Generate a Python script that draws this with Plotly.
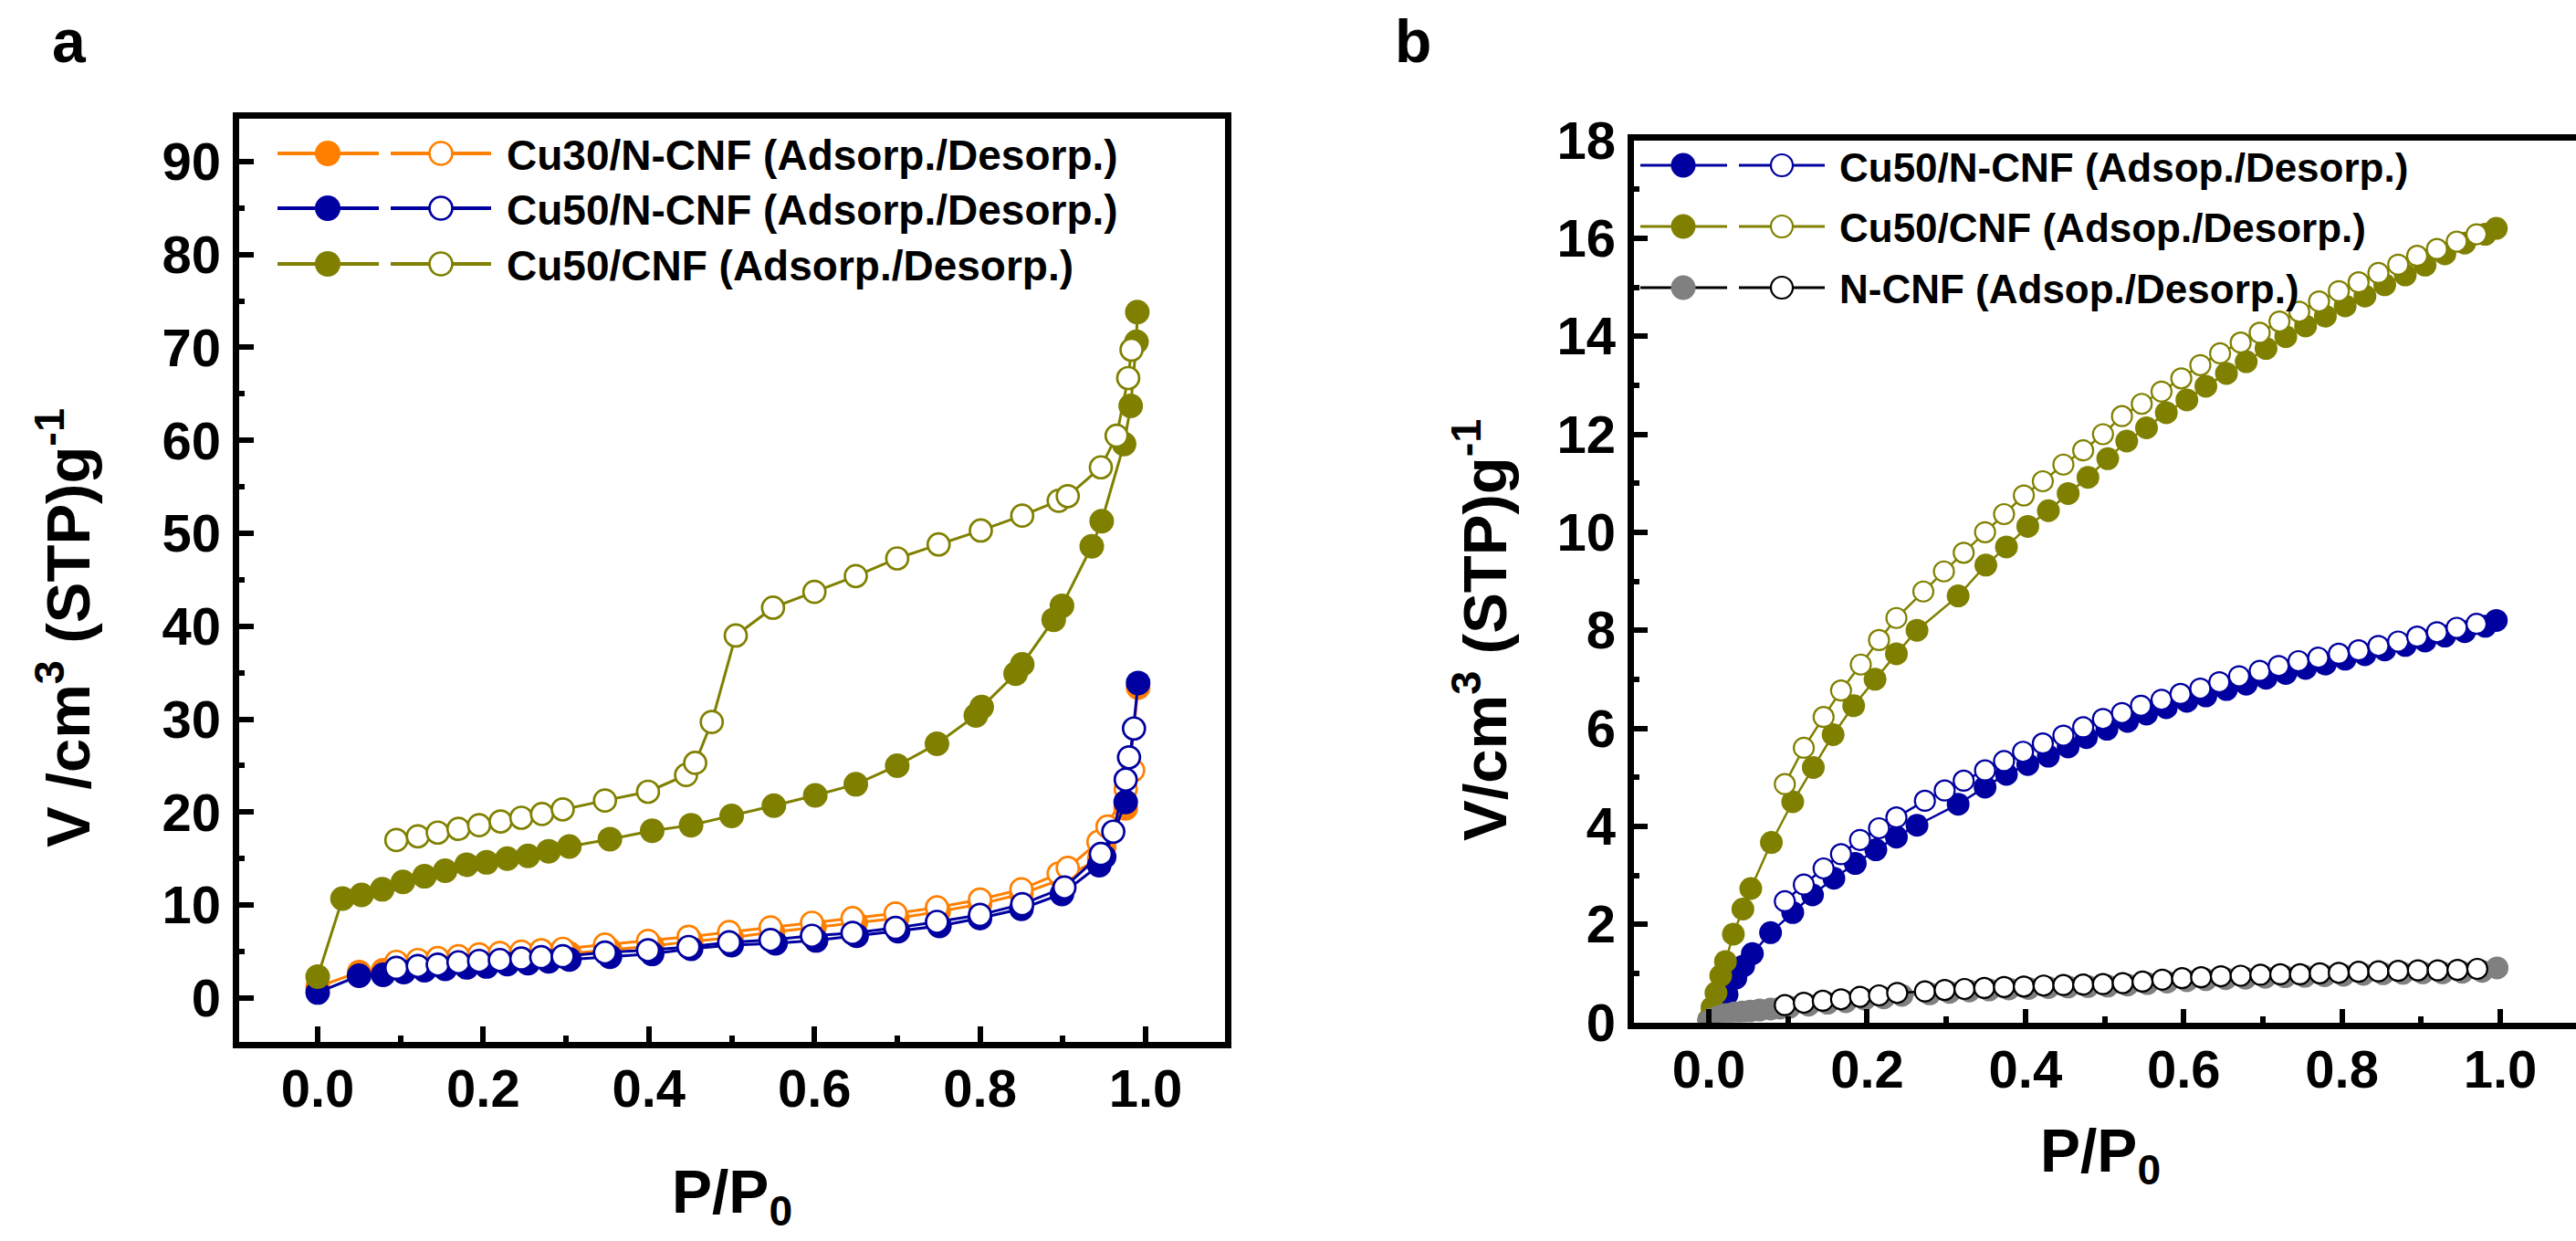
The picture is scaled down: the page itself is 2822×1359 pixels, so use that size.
import plotly.graph_objects as go

W, H = 2822, 1359
FONT = "Liberation Sans"
ORANGE = "#FF8000"
NAVY = "#0000A0"
OLIVE = "#808000"
GRAY = "#808080"
BLACK = "#000000"

# ---------------- Panel a data ----------------
a_cu30_ads_x = [0.0, 0.05, 0.079, 0.104, 0.129, 0.154, 0.18, 0.204, 0.229, 0.254, 0.279, 0.304, 0.353, 0.404,
                0.451, 0.50, 0.55, 0.60, 0.65, 0.70, 0.75, 0.80, 0.85, 0.899, 0.944, 0.95, 0.976, 0.991]
a_cu30_ads_y = [1.2, 2.8, 3.0, 3.3, 3.55, 3.75, 3.95, 4.1, 4.3, 4.45, 4.6, 4.8, 5.2, 5.6,
                6.1, 6.5, 7.1, 7.6, 8.1, 8.6, 9.3, 10.1, 11.2, 12.8, 15.0, 16.3, 20.4, 33.4]
a_cu30_des_x = [0.095, 0.121, 0.145, 0.17, 0.195, 0.22, 0.246, 0.27, 0.296, 0.347, 0.399, 0.448, 0.497,
                0.547, 0.597, 0.646, 0.698, 0.748, 0.80, 0.85, 0.895, 0.906, 0.943, 0.954, 0.976, 0.985]
a_cu30_des_y = [3.9, 4.1, 4.3, 4.5, 4.7, 4.85, 5.0, 5.15, 5.3, 5.75, 6.15, 6.6, 7.1,
                7.6, 8.1, 8.6, 9.1, 9.75, 10.6, 11.7, 13.4, 14.0, 16.8, 18.45, 22.5, 24.5]

a_cu50n_ads_x = [0.0, 0.05, 0.079, 0.104, 0.129, 0.154, 0.18, 0.204, 0.229, 0.254, 0.279, 0.304, 0.353, 0.404,
                 0.451, 0.50, 0.553, 0.602, 0.651, 0.701, 0.751, 0.80, 0.85, 0.899, 0.944, 0.95, 0.976, 0.991]
a_cu50n_ads_y = [0.6, 2.4, 2.5, 2.8, 3.0, 3.15, 3.3, 3.4, 3.65, 3.75, 3.95, 4.15, 4.45, 4.75,
                 5.3, 5.7, 5.9, 6.2, 6.7, 7.2, 7.75, 8.6, 9.6, 11.2, 14.3, 15.2, 21.1, 33.9]
a_cu50n_des_x = [0.095, 0.121, 0.145, 0.17, 0.195, 0.22, 0.246, 0.27, 0.296, 0.347, 0.399, 0.448, 0.497,
                 0.547, 0.597, 0.646, 0.698, 0.748, 0.80, 0.851, 0.902, 0.946, 0.961, 0.976, 0.98, 0.986]
a_cu50n_des_y = [3.25, 3.45, 3.6, 3.85, 4.0, 4.1, 4.25, 4.4, 4.5, 4.9, 5.15, 5.5, 6.0,
                 6.25, 6.7, 7.0, 7.55, 8.2, 8.95, 10.1, 11.9, 15.5, 17.9, 23.5, 25.9, 29.0]

a_cu50c_ads_x = [0.0, 0.030, 0.053, 0.078, 0.103, 0.129, 0.154, 0.18, 0.204, 0.229, 0.254, 0.279, 0.304, 0.353,
                 0.404, 0.451, 0.50, 0.551, 0.601, 0.65, 0.70, 0.748, 0.795, 0.802, 0.843, 0.851, 0.889, 0.899,
                 0.935, 0.947, 0.974, 0.982, 0.989, 0.990]
a_cu50c_ads_y = [2.3, 10.7, 11.1, 11.7, 12.5, 13.1, 13.7, 14.35, 14.6, 15.0, 15.3, 15.8, 16.3, 17.1,
                 18.0, 18.6, 19.6, 20.7, 21.8, 23.0, 25.0, 27.35, 30.4, 31.3, 34.9, 35.9, 40.7, 42.2,
                 48.6, 51.3, 59.6, 63.7, 70.6, 73.8]
a_cu50c_des_x = [0.095, 0.121, 0.145, 0.170, 0.195, 0.221, 0.246, 0.271, 0.296, 0.347, 0.399, 0.445, 0.456,
                 0.476, 0.505, 0.55, 0.60, 0.65, 0.70, 0.75, 0.801, 0.851, 0.895, 0.906, 0.946, 0.965, 0.979, 0.983]
a_cu50c_des_y = [17.0, 17.4, 17.8, 18.2, 18.6, 19.0, 19.4, 19.8, 20.3, 21.25, 22.2, 24.0, 25.3,
                 29.7, 39.0, 42.0, 43.7, 45.4, 47.3, 48.8, 50.3, 51.9, 53.5, 54.0, 57.1, 60.5, 66.7, 69.75]

# ---------------- Panel b data ----------------
b_cu50n_ads_x = [0.0, 0.008, 0.015, 0.023, 0.034, 0.044, 0.055, 0.078, 0.106, 0.131, 0.158, 0.185, 0.211, 0.237,
                 0.263, 0.315, 0.349, 0.376, 0.403, 0.429, 0.454, 0.477, 0.503, 0.529, 0.553, 0.578, 0.604, 0.628,
                 0.654, 0.679, 0.704, 0.729, 0.754, 0.779, 0.804, 0.829, 0.854, 0.88, 0.905, 0.93, 0.955, 0.981, 0.995]
b_cu50n_ads_y = [0.05, 0.2, 0.38, 0.57, 0.9, 1.15, 1.4, 1.83, 2.24, 2.6, 2.94, 3.24, 3.52, 3.78,
                 4.02, 4.45, 4.8, 5.06, 5.26, 5.43, 5.62, 5.81, 5.98, 6.14, 6.29, 6.42, 6.55, 6.66,
                 6.79, 6.9, 7.02, 7.12, 7.22, 7.31, 7.41, 7.5, 7.6, 7.69, 7.78, 7.88, 7.97, 8.08, 8.2]
b_cu50n_des_x = [0.096, 0.12, 0.145, 0.167, 0.191, 0.215, 0.237, 0.273, 0.298, 0.322, 0.349, 0.373, 0.397, 0.422,
                 0.448, 0.473, 0.498, 0.522, 0.546, 0.572, 0.596, 0.621, 0.645, 0.67, 0.696, 0.72, 0.745, 0.77,
                 0.796, 0.821, 0.846, 0.871, 0.895, 0.92, 0.945, 0.97]
b_cu50n_des_y = [2.47, 2.81, 3.14, 3.43, 3.72, 3.96, 4.18, 4.52, 4.73, 4.93, 5.14, 5.33, 5.52, 5.69,
                 5.85, 6.02, 6.19, 6.31, 6.46, 6.58, 6.7, 6.81, 6.94, 7.06, 7.17, 7.27, 7.37, 7.44,
                 7.52, 7.59, 7.68, 7.77, 7.87, 7.96, 8.05, 8.13]

b_cu50c_ads_x = [0.0, 0.004, 0.009, 0.015, 0.021, 0.031, 0.043, 0.053, 0.079, 0.106, 0.132, 0.157, 0.183, 0.21,
                 0.237, 0.263, 0.315, 0.35, 0.376, 0.403, 0.429, 0.454, 0.479, 0.504, 0.528, 0.553, 0.578, 0.604,
                 0.628, 0.654, 0.679, 0.704, 0.729, 0.754, 0.779, 0.804, 0.829, 0.854, 0.88, 0.905, 0.93, 0.955,
                 0.981, 0.995]
b_cu50c_ads_y = [0.05, 0.3, 0.6, 0.95, 1.24, 1.8, 2.31, 2.73, 3.67, 4.5, 5.2, 5.87, 6.46, 7.0,
                 7.52, 8.0, 8.7, 9.33, 9.7, 10.12, 10.44, 10.79, 11.12, 11.5, 11.86, 12.13, 12.44, 12.7,
                 12.98, 13.24, 13.48, 13.75, 13.99, 14.21, 14.41, 14.62, 14.82, 15.05, 15.25, 15.45, 15.68, 15.9,
                 16.08, 16.2]
b_cu50c_des_x = [0.096, 0.12, 0.145, 0.167, 0.192, 0.215, 0.237, 0.271, 0.297, 0.322, 0.349, 0.373, 0.398, 0.422,
                 0.448, 0.473, 0.498, 0.522, 0.547, 0.572, 0.597, 0.621, 0.646, 0.672, 0.696, 0.721, 0.746, 0.771,
                 0.796, 0.821, 0.846, 0.871, 0.895, 0.92, 0.945, 0.97]
b_cu50c_des_y = [4.86, 5.6, 6.23, 6.77, 7.3, 7.8, 8.25, 8.79, 9.2, 9.58, 10.0, 10.37, 10.75, 11.04,
                 11.38, 11.67, 12.0, 12.37, 12.62, 12.87, 13.14, 13.41, 13.65, 13.87, 14.07, 14.3, 14.5, 14.71,
                 14.92, 15.1, 15.29, 15.46, 15.64, 15.78, 15.93, 16.08]

b_ncnf_ads_x = [0.0, 0.006, 0.013, 0.022, 0.032, 0.042, 0.052, 0.064, 0.078, 0.09, 0.102, 0.126, 0.15, 0.173,
                0.197, 0.221, 0.244, 0.279, 0.304, 0.329, 0.354, 0.379, 0.404, 0.429, 0.454, 0.479, 0.504, 0.529,
                0.554, 0.579, 0.604, 0.628, 0.653, 0.678, 0.703, 0.728, 0.753, 0.778, 0.802, 0.827, 0.852, 0.877,
                0.902, 0.927, 0.952, 0.977, 0.996]
b_ncnf_ads_y = [0.02, 0.08, 0.12, 0.16, 0.19, 0.21, 0.23, 0.25, 0.27, 0.29, 0.31, 0.35, 0.39, 0.42,
                0.47, 0.5, 0.55, 0.58, 0.61, 0.64, 0.66, 0.68, 0.69, 0.71, 0.72, 0.73, 0.74, 0.76,
                0.79, 0.82, 0.85, 0.87, 0.89, 0.9, 0.92, 0.93, 0.94, 0.95, 0.96, 0.98, 0.99, 1.0,
                1.01, 1.01, 1.02, 1.04, 1.11]
b_ncnf_des_x = [0.096, 0.12, 0.144, 0.167, 0.191, 0.215, 0.238, 0.273, 0.298, 0.323, 0.348, 0.373, 0.398, 0.423,
                0.448, 0.473, 0.498, 0.523, 0.548, 0.573, 0.598, 0.622, 0.647, 0.672, 0.697, 0.722, 0.747, 0.772,
                0.796, 0.821, 0.846, 0.871, 0.896, 0.921, 0.946, 0.971]
b_ncnf_des_y = [0.35, 0.4, 0.44, 0.47, 0.52, 0.55, 0.6, 0.63, 0.66, 0.68, 0.7, 0.72, 0.73, 0.75,
                0.76, 0.77, 0.78, 0.8, 0.83, 0.87, 0.9, 0.92, 0.94, 0.95, 0.97, 0.98, 0.98, 1.0,
                1.01, 1.03, 1.04, 1.05, 1.06, 1.06, 1.07, 1.09]

legend_a = ["Cu30/N-CNF (Adsorp./Desorp.)", "Cu50/N-CNF (Adsorp./Desorp.)", "Cu50/CNF (Adsorp./Desorp.)"]
legend_a_colors = [ORANGE, NAVY, OLIVE]
legend_b = ["Cu50/N-CNF (Adsop./Desorp.)", "Cu50/CNF (Adsop./Desorp.)", "N-CNF (Adsop./Desorp.)"]
legend_b_fill = [NAVY, OLIVE, GRAY]
legend_b_line = [NAVY, OLIVE, BLACK]

# ---------------- helpers ----------------
def px_x(p):
    return p / W


def px_y(p):
    return 1 - p / H


fig = go.Figure()


def add_series(x, y, color, filled, axis, size, lw, olw, linecolor=None):
    xa, ya = axis
    lc = linecolor or color
    if filled:
        marker = dict(symbol="circle", size=size, color=color, line=dict(width=0))
    else:
        marker = dict(symbol="circle", size=size, color="white", line=dict(width=olw, color=lc))
    fig.add_trace(go.Scatter(x=x, y=y, mode="lines+markers", xaxis=xa, yaxis=ya,
                             line=dict(color=lc, width=lw), marker=marker,
                             showlegend=False, hoverinfo="skip"))


A = ("x", "y")
B = ("x2", "y2")
# panel a
add_series(a_cu30_ads_x, a_cu30_ads_y, ORANGE, True, A, 27, 3, 0)
add_series(a_cu30_des_x, a_cu30_des_y, ORANGE, False, A, 24, 3, 2.7)
add_series(a_cu50n_ads_x, a_cu50n_ads_y, NAVY, True, A, 27, 3, 0)
add_series(a_cu50n_des_x, a_cu50n_des_y, NAVY, False, A, 24, 3, 2.7)
add_series(a_cu50c_ads_x, a_cu50c_ads_y, OLIVE, True, A, 27, 3, 0)
add_series(a_cu50c_des_x, a_cu50c_des_y, OLIVE, False, A, 24, 3, 2.7)
# panel b
add_series(b_cu50n_ads_x, b_cu50n_ads_y, NAVY, True, B, 25, 2.5, 0)
add_series(b_cu50n_des_x, b_cu50n_des_y, NAVY, False, B, 22, 2.5, 2.2)
add_series(b_cu50c_ads_x, b_cu50c_ads_y, OLIVE, True, B, 25, 2.5, 0)
add_series(b_cu50c_des_x, b_cu50c_des_y, OLIVE, False, B, 22, 2.5, 2.2)
add_series(b_ncnf_ads_x, b_ncnf_ads_y, GRAY, True, B, 25, 2.5, 0)
add_series(b_ncnf_des_x, b_ncnf_des_y, BLACK, False, B, 22, 2.5, 2.2, linecolor=BLACK)

tickfont = dict(family=FONT, size=58, color="black", weight="bold")


def axis_common():
    return dict(showgrid=False, zeroline=False, showline=True, linecolor="black", linewidth=7,
                ticks="inside", tickcolor="black", tickwidth=6, tickfont=tickfont, automargin=False)


# panel a axes (inner edges of the 7px frame)
xa = axis_common()
xa.update(domain=[px_x(261.5), px_x(1341.5)], range=[-0.0954, 1.0954], dtick=0.2, tick0=0,
          tickformat=".1f", ticklen=17, mirror=True, anchor="y",
          minor=dict(dtick=0.1, tick0=0, ticks="inside", ticklen=7, tickwidth=6, tickcolor="black"),
          ticklabelstandoff=-5)
ya = axis_common()
ya.update(domain=[px_y(1140.5), px_y(129.5)], range=[-4.67, 94.65], dtick=10, tick0=0,
          ticklen=16, mirror=True, anchor="x",
          minor=dict(dtick=5, tick0=0, ticks="inside", ticklen=6, tickwidth=6, tickcolor="black"),
          ticklabelstandoff=1)
# panel b axes
xb = axis_common()
xb.update(domain=[px_x(1789.5), 1.0], range=[-0.0952, 1.0957], dtick=0.2, tick0=0,
          tickformat=".1f", ticklen=15, mirror=True, anchor="y2",
          minor=dict(dtick=0.1, tick0=0, ticks="inside", ticklen=7, tickwidth=6, tickcolor="black"),
          ticklabelstandoff=-5)
yb = axis_common()
yb.update(domain=[px_y(1119.5), px_y(153.5)], range=[0, 18], dtick=2, tick0=0,
          ticklen=15, mirror=False, anchor="x2",
          minor=dict(dtick=1, tick0=0, ticks="inside", ticklen=6, tickwidth=6, tickcolor="black"),
          ticklabelstandoff=1)

shapes = []
annotations = []


def legend_entry(row_y, x_l1, x_m1, x_r1, x_l2, x_m2, x_r2, fill, lcol, lw, d_f, d_o, olw):
    for (l, r) in ((x_l1, x_r1), (x_l2, x_r2)):
        shapes.append(dict(type="line", xref="paper", yref="paper", x0=px_x(l), x1=px_x(r),
                           y0=px_y(row_y), y1=px_y(row_y), line=dict(color=lcol, width=lw)))
    rf = d_f / 2
    shapes.append(dict(type="circle", xref="paper", yref="paper", xsizemode="pixel", ysizemode="pixel",
                       xanchor=px_x(x_m1), yanchor=px_y(row_y), x0=-rf, x1=rf, y0=-rf, y1=rf,
                       fillcolor=fill, line=dict(width=0)))
    ro = d_o / 2
    shapes.append(dict(type="circle", xref="paper", yref="paper", xsizemode="pixel", ysizemode="pixel",
                       xanchor=px_x(x_m2), yanchor=px_y(row_y), x0=-ro, x1=ro, y0=-ro, y1=ro,
                       fillcolor="white", line=dict(width=olw, color=lcol)))


for i, (label, col) in enumerate(zip(legend_a, legend_a_colors)):
    ry = [168, 228, 289][i]
    legend_entry(ry, 304, 359, 415, 428, 483, 538, col, col, 4, 28, 25, 2.7)
    annotations.append(dict(text=label, xref="paper", yref="paper", x=px_x(553), y=px_y(ry + 2),
                            xanchor="left", yanchor="middle", showarrow=False,
                            font=dict(family=FONT, size=46, color="black", weight="bold")))

for i, label in enumerate(legend_b):
    ry = [181, 248, 315][i]
    legend_entry(ry, 1797, 1844, 1892, 1905, 1952, 1999, legend_b_fill[i], legend_b_line[i], 3, 27, 24, 2.2)
    annotations.append(dict(text=label, xref="paper", yref="paper", x=px_x(2013), y=px_y(ry + 2),
                            xanchor="left", yanchor="middle", showarrow=False,
                            font=dict(family=FONT, size=44, color="black", weight="bold")))

labfont = dict(family=FONT, size=67, color="black", weight="bold")
xlabfont = dict(family=FONT, size=66, color="black", weight="bold")
annotations += [
    dict(text="a", xref="paper", yref="paper", x=px_x(76), y=px_y(45), xanchor="center", yanchor="middle",
         showarrow=False, font=dict(family=FONT, size=66, color="black", weight="bold")),
    dict(text="b", xref="paper", yref="paper", x=px_x(1548), y=px_y(45), xanchor="center", yanchor="middle",
         showarrow=False, font=dict(family=FONT, size=66, color="black", weight="bold")),
    dict(text="V /cm<sup>3</sup> (STP)g<sup>-1</sup>", xref="paper", yref="paper", x=px_x(70), y=px_y(688),
         xanchor="center", yanchor="middle", textangle=-90, showarrow=False, font=labfont),
    dict(text="V/cm<sup>3</sup> (STP)g<sup>-1</sup>", xref="paper", yref="paper", x=px_x(1622), y=px_y(690),
         xanchor="center", yanchor="middle", textangle=-90, showarrow=False, font=labfont),
    dict(text="P/P<sub>0</sub>", xref="paper", yref="paper", x=px_x(802), y=px_y(1310),
         xanchor="center", yanchor="middle", showarrow=False, font=xlabfont),
    dict(text="P/P<sub>0</sub>", xref="paper", yref="paper", x=px_x(2301), y=px_y(1265),
         xanchor="center", yanchor="middle", showarrow=False, font=xlabfont),
]

fig.update_layout(
    width=W, height=H, margin=dict(l=0, r=0, t=0, b=0, autoexpand=False),
    paper_bgcolor="white", plot_bgcolor="white",
    xaxis=xa, yaxis=ya, xaxis2=xb, yaxis2=yb,
    shapes=shapes, annotations=annotations, showlegend=False,
)

fig.write_html("out.html")
